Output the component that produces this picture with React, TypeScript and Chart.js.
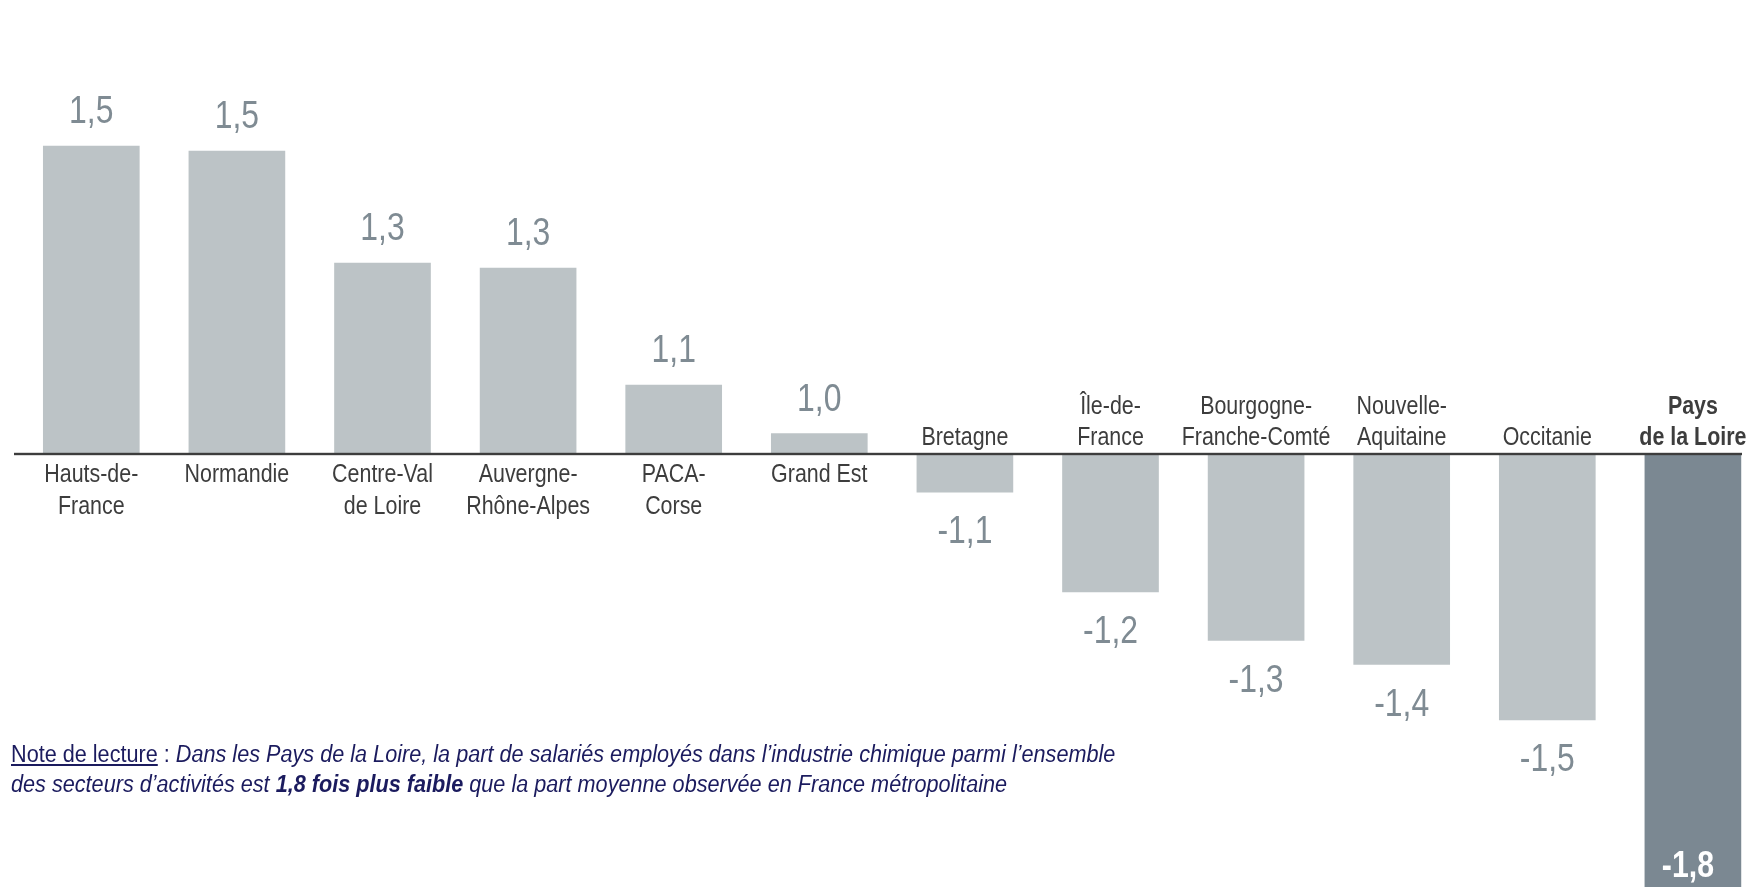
import React, { useEffect, useRef } from "react";
import { Chart, registerables } from "chart.js";

Chart.register(...registerables);

// ---- data ----
const regions: string[][] = [
  ["Hauts-de-", "France"],
  ["Normandie"],
  ["Centre-Val", "de Loire"],
  ["Auvergne-", "Rhône-Alpes"],
  ["PACA-", "Corse"],
  ["Grand Est"],
  ["Bretagne"],
  ["Île-de-", "France"],
  ["Bourgogne-", "Franche-Comté"],
  ["Nouvelle-", "Aquitaine"],
  ["Occitanie"],
  ["Pays", "de la Loire"],
];
const ratioLabels = ["1,5", "1,5", "1,3", "1,3", "1,1", "1,0", "-1,1", "-1,2", "-1,3", "-1,4", "-1,5", "-1,8"];
// bar length as drawn (distance from parity)
const barLengths = [0.5, 0.492, 0.31, 0.302, 0.112, 0.033, -0.062, -0.224, -0.303, -0.342, -0.432, -0.8];
const highlightIndex = 11;

const Y_MIN = -0.7034;
const Y_MAX = 0.7375;
const FONT = "'Liberation Sans', Arial, sans-serif";
const SQUEEZE = 0.84; // Arial Narrow look
const NOTE_SQUEEZE = 0.88;
const LIGHT = "#bcc3c6";
const DARK = "#7b8892";

function drawText(ctx: CanvasRenderingContext2D, t: string, x: number, y: number) {
  ctx.save();
  ctx.translate(x, y);
  ctx.scale(SQUEEZE, 1);
  ctx.fillText(t, 0, 0);
  ctx.restore();
}

const labelPlugin = {
  id: "regionLabels",
  afterDatasetsDraw(chart: any) {
    const ctx = chart.ctx as CanvasRenderingContext2D;
    const y0 = chart.scales.y.getPixelForValue(0);
    ctx.save();
    ctx.fillStyle = "#3d3d3d";
    ctx.fillRect(14, y0 - 1.2, 1728, 2.4);
    const meta = chart.getDatasetMeta(0);
    meta.data.forEach((bar: any, i: number) => {
      const { x, y } = bar.getProps(["x", "y"], true);
      const v = barLengths[i];
      const hi = i === highlightIndex;
      const lines = regions[i];
      ctx.textAlign = "center";
      ctx.textBaseline = "alphabetic";
      ctx.font = `${hi ? "bold " : ""}25.5px ${FONT}`;
      ctx.fillStyle = "#3d3d3d";
      if (v >= 0) {
        lines.forEach((t, k) => drawText(ctx, t, x, y0 + 28 + k * 31.6));
      } else {
        lines.forEach((t, k) => drawText(ctx, t, x, y0 - 8.5 - (lines.length - 1 - k) * 31.6));
      }
      if (hi) {
        ctx.font = `bold 36px ${FONT}`;
        ctx.fillStyle = "#ffffff";
        const bottom = Math.min(y, chart.height);
        drawText(ctx, ratioLabels[i], x - 5, bottom - 10);
      } else {
        ctx.font = `38px ${FONT}`;
        ctx.fillStyle = "#7f8b93";
        if (v >= 0) drawText(ctx, ratioLabels[i], x, y - 23);
        else drawText(ctx, ratioLabels[i], x, y + 51);
      }
    });
    ctx.restore();
  },
};

export default function App() {
  const ref = useRef<HTMLCanvasElement | null>(null);
  useEffect(() => {
    document.body.style.margin = "0";
    if (!ref.current) return;
    const chart = new Chart(ref.current, {
      type: "bar",
      data: {
        labels: regions.map((r) => r.join(" ")),
        datasets: [
          {
            data: barLengths,
            backgroundColor: barLengths.map((_, i) => (i === highlightIndex ? DARK : LIGHT)),
            borderWidth: 0,
            barThickness: 96,
            clip: false as any,
          },
        ],
      },
      options: {
        responsive: false,
        animation: false,
        layout: { padding: { left: 91.3, right: 55.1, top: 0, bottom: 0 } },
        scales: {
          x: { type: "category", offset: false, display: false },
          y: { min: Y_MIN, max: Y_MAX, display: false },
        },
        plugins: { legend: { display: false }, tooltip: { enabled: false } },
      },
      plugins: [labelPlugin],
    });
    return () => chart.destroy();
  }, []);

  return (
    <div style={{ position: "fixed", left: 0, top: 0, width: 1748, height: 887, background: "#fff", overflow: "hidden" }}>
      <canvas ref={ref} width={1748} height={887} style={{ display: "block" }} />
      <div
        style={{
          position: "absolute",
          left: 11,
          top: 738.5,
          fontFamily: FONT,
          fontSize: 24.6,
          lineHeight: "30px",
          color: "#1b1b5e",
          whiteSpace: "nowrap",
          transform: `scaleX(${NOTE_SQUEEZE})`,
          transformOrigin: "0 0",
        }}
      >
        <div>
          <span style={{ textDecoration: "underline" }}>Note de lecture</span> :{" "}
          <i>Dans les Pays de la Loire, la part de salariés employés dans l’industrie chimique parmi l’ensemble</i>
        </div>
        <div>
          <i>
            des secteurs d’activités est <b>1,8 fois plus faible</b> que la part moyenne observée en France métropolitaine
          </i>
        </div>
      </div>
    </div>
  );
}
